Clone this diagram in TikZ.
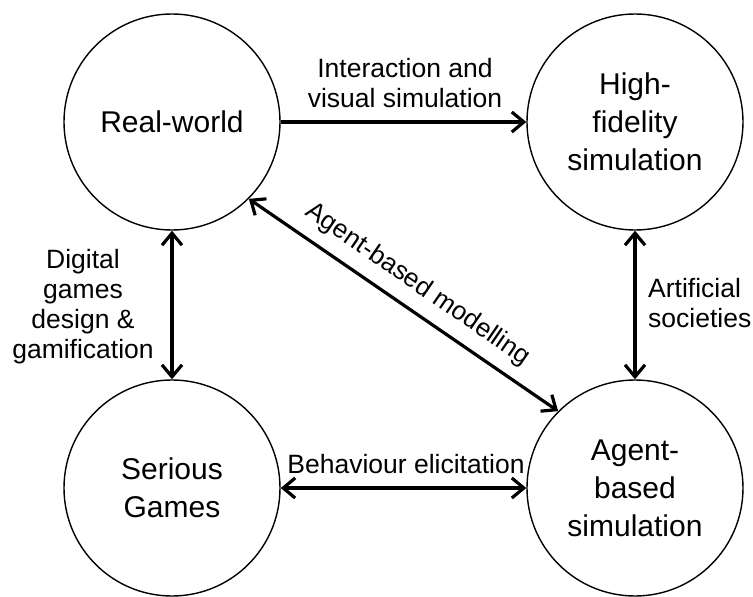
\documentclass[tikz,border=0pt]{standalone}
\usepackage{fontspec}
\setmainfont{Liberation Sans}
\usetikzlibrary{arrows.meta}
\tikzset{
  stage/.style={circle, draw, line width=1.4pt, minimum size=216pt, inner sep=0pt, align=center, font=\fontsize{30}{38}\selectfont},
  link/.style={line width=3.2pt, {Straight Barb[length=12pt,width=20pt]}-{Straight Barb[length=12pt,width=20pt]}},
  onelink/.style={line width=3.2pt, -{Straight Barb[length=12pt,width=20pt]}},
  lbl/.style={align=center, font=\fontsize{26.5}{30}\selectfont, inner sep=0pt}
}
\begin{document}
\begin{tikzpicture}[x=1pt,y=-1pt]
\useasboundingbox (0,0) rectangle (753,597);
\node[stage] (rw) at (172,122) {Real-world};
\node[stage] (hf) at (635,122) {High-\\fidelity\\simulation};
\node[stage] (sg) at (172,488) {Serious\\Games};
\node[stage] (ab) at (635,488) {Agent-\\based\\simulation};
\draw[onelink] (rw) -- (hf);
\draw[link] (rw) -- (sg);
\draw[link] (hf) -- (ab);
\draw[link] (sg) -- (ab);
\draw[link] (rw.south east) -- node[lbl, sloped, above, inner sep=11pt, font=\fontsize{26}{30}\selectfont] {Agent-based modelling} (ab.north west);
\node[lbl] (l1) at (405,83) {Interaction and\\visual simulation};
\node[lbl] (l2) at (83,307) {Digital\\games\\design \&\\gamification};
\node[lbl, align=left, anchor=west] (l3) at (648,303) {Artificial\\societies};
\node[lbl] (l4) at (406,464) {Behaviour elicitation};
\end{tikzpicture}
\end{document}
